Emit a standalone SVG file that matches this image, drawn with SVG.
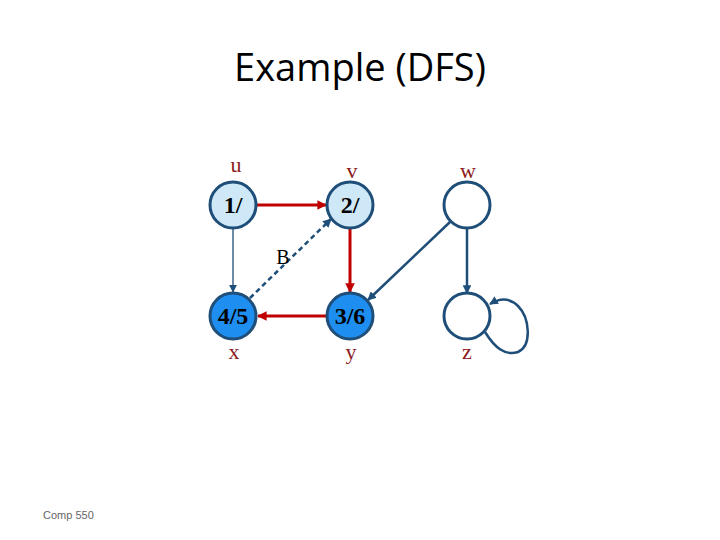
<svg xmlns="http://www.w3.org/2000/svg" width="720" height="540" viewBox="0 0 720 540">
<defs>
<style>
.node{stroke:#1f4e79;stroke-width:3}
.light{fill:#cfe8f8}
.dark{fill:#1e8ef0}
.white{fill:#ffffff}
.nt{font-family:"Liberation Serif",serif;font-weight:bold;font-size:24px;fill:#000;text-anchor:middle}
.lab{font-family:"Liberation Serif",serif;font-size:22px;fill:#8b1a1a;text-anchor:middle}
.red{stroke:#c00000;stroke-width:3;fill:none}
.blue{stroke:#1f4e79;stroke-width:2.5;fill:none}
.thin{stroke:#1f4e79;stroke-width:1.3;fill:none}
.dash{stroke:#1f4e79;stroke-width:2.5;fill:none;stroke-dasharray:5,3.5}
</style>
<marker id="ar" viewBox="0 0 10 10" refX="9" refY="5" markerWidth="3.2" markerHeight="3.2" orient="auto" markerUnits="strokeWidth"><path d="M0,0L10,5L0,10z" fill="#c00000"/></marker>
<marker id="ab" viewBox="0 0 10 10" refX="9" refY="5" markerWidth="3.5" markerHeight="3.5" orient="auto" markerUnits="strokeWidth"><path d="M0,0L10,5L0,10z" fill="#1f4e79"/></marker>
<marker id="abt" viewBox="0 0 10 10" refX="9" refY="5" markerWidth="6" markerHeight="6" orient="auto" markerUnits="strokeWidth"><path d="M0,0L10,5L0,10z" fill="#1f4e79"/></marker>
</defs>
<rect width="720" height="540" fill="#fff"/>
<text x="360" y="81" font-family="'Open Sans','Liberation Sans',sans-serif" font-size="38" fill="#000" text-anchor="middle">Example (DFS)</text>
<text x="43" y="519" font-family="'Liberation Sans',sans-serif" font-size="11" fill="#666">Comp 550</text>
<g id="connectors">
<line class="red" x1="257" y1="205" x2="326" y2="205" marker-end="url(#ar)"/>
<line class="red" x1="350" y1="229" x2="350" y2="292" marker-end="url(#ar)"/>
<line class="red" x1="327" y1="316" x2="258" y2="316" marker-end="url(#ar)"/>
<line class="thin" x1="233" y1="229" x2="233" y2="292" marker-end="url(#abt)"/>
<line class="dash" x1="250" y1="298" x2="331" y2="219" marker-end="url(#ab)"/>
<line class="blue" x1="450" y1="222" x2="368" y2="300" marker-end="url(#ab)"/>
<line class="blue" x1="467" y1="229" x2="467" y2="293" marker-end="url(#ab)"/>
<path class="blue" d="M485,332 C495,348 505,356 518,352 C532,346 530,318 518,306 C510,298 500,298 490,304" marker-end="url(#ab)"/>
<text x="283" y="264" font-family="'Liberation Serif',serif" font-size="20" fill="#000" text-anchor="middle">B</text>
</g>
<g id="u"><circle class="node light" cx="233" cy="205" r="23"/><text class="nt" x="233" y="213">1/</text><text class="lab" x="236" y="172">u</text></g>
<g id="v"><circle class="node light" cx="350" cy="205" r="23"/><text class="nt" x="350" y="213">2/</text><text class="lab" x="352" y="178">v</text></g>
<g id="w"><circle class="node white" cx="467" cy="205" r="23"/><text class="lab" x="468" y="178">w</text></g>
<g id="x"><circle class="node dark" cx="233" cy="316" r="23"/><text class="nt" x="233" y="324">4/5</text><text class="lab" x="234" y="359">x</text></g>
<g id="y"><circle class="node dark" cx="350" cy="316" r="23"/><text class="nt" x="350" y="324">3/6</text><text class="lab" x="351" y="359">y</text></g>
<g id="z"><circle class="node white" cx="467" cy="316" r="23"/><text class="lab" x="467" y="359">z</text></g>
</svg>
